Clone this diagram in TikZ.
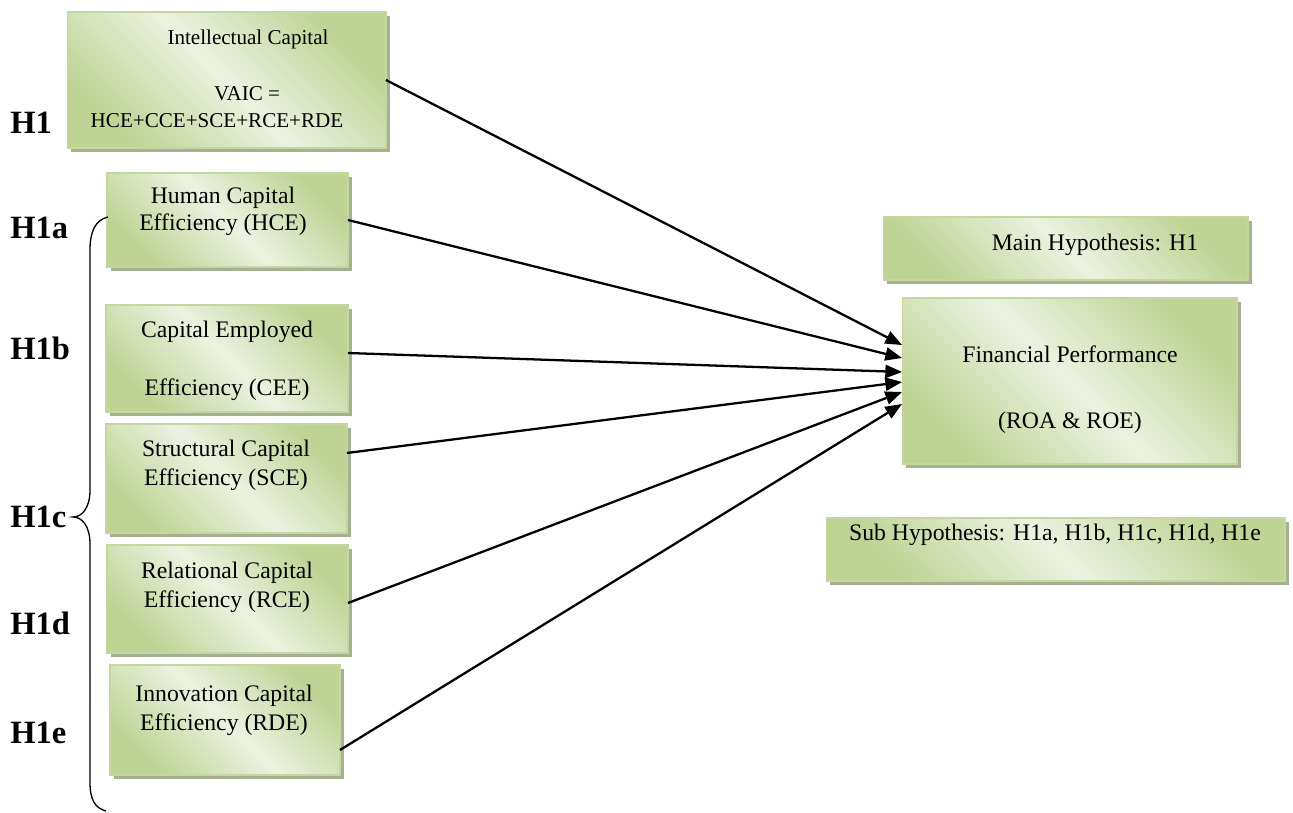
\documentclass[tikz,border=0pt]{standalone}
\usepackage{fontspec}
\setmainfont{Liberation Serif}
\usetikzlibrary{arrows.meta,shadows}
\definecolor{gdark}{RGB}{190,211,148}
\definecolor{glight}{RGB}{236,242,224}
\definecolor{gborder}{RGB}{196,215,160}
\definecolor{gshadow}{RGB}{166,176,147}
\tikzset{
  >={Triangle[length=9.5pt,width=7.5pt]},
  gbox/.style={draw=gborder, line width=0.6pt, inner sep=0pt, outer sep=0pt,
    top color=gdark, bottom color=gdark, middle color=glight, shading angle=-45,
    drop shadow={shadow xshift=0.08cm, shadow yshift=-0.08cm, fill=gshadow, opacity=1}},
  txt/.style={align=center, font=\fontsize{13.5}{16.5}\selectfont, inner sep=0pt},
  hyp/.style={anchor=west, font=\fontsize{18.5}{22}\selectfont\bfseries, inner sep=0pt},
  flow/.style={->, line width=1.3pt},
}

\begin{document}
\begin{tikzpicture}[x=0.02cm, y=-0.02cm]
  \useasboundingbox (0,0) rectangle (1293,813);

  \node[gbox, minimum width=6.38cm, minimum height=2.72cm] (ic)  at (226.5,80)  {};
  \node[gbox, minimum width=4.82cm, minimum height=1.88cm] (hce) at (227.5,220) {};
  \node[gbox, minimum width=4.84cm, minimum height=2.14cm] (cee) at (227,358.5) {};
  \node[gbox, minimum width=4.82cm, minimum height=2.18cm] (sce) at (226.5,478.5) {};
  \node[gbox, minimum width=4.82cm, minimum height=2.16cm] (rce) at (227.5,599) {};
  \node[gbox, minimum width=4.60cm, minimum height=2.20cm] (rde) at (225,720) {};
  \node[gbox, minimum width=7.30cm, minimum height=1.26cm] (mainh) at (1065.5,248.5) {};
  \node[gbox, minimum width=6.70cm, minimum height=3.32cm] (fin)   at (1069.5,381) {};
  \node[gbox, minimum width=9.18cm, minimum height=1.26cm] (subh)  at (1055.5,549.5) {};

  \node[txt, font=\fontsize{12}{15.3}\selectfont] (ict) at (217,78.5)
    {\hspace*{1.24cm}Intellectual Capital\\[16.5pt]\hspace*{1.2cm}VAIC =\\HCE+CCE+SCE+RCE+RDE};
  \node[txt] (hcet) at (223,211.5) {Human Capital\\[-1.2pt]Efficiency (HCE)};
  \node[txt] (ceet) at (227,361)   {Capital Employed\\[16.4pt]Efficiency (CEE)};
  \node[txt] (scet) at (226,465)   {Structural Capital\\Efficiency (SCE)};
  \node[txt] (rcet) at (227,587)   {Relational Capital\\Efficiency (RCE)};
  \node[txt] (rdet) at (224,710)   {Innovation Capital\\Efficiency (RDE)};
  \node[txt] (maint) at (1095,245) {Main Hypothesis: H1};
  \node[txt] (fint)  at (1070,390) {Financial Performance\\[20.9pt](ROA \& ROE)};
  \node[txt] (subt)  at (1055,535) {Sub Hypothesis: H1a, H1b, H1c, H1d, H1e};

  \node[hyp] (h1)  at (10,123) {H1};
  \node[hyp] (h1a) at (10,228) {H1a};
  \node[hyp] (h1b) at (10,348) {H1b};
  \node[hyp] (h1c) at (10,517) {H1c};
  \node[hyp] (h1d) at (10,623) {H1d};
  \node[hyp] (h1e) at (10,733) {H1e};

  \draw[line width=0.75pt] (108,217) .. controls (95,220) and (90,232) .. (90,250) -- (90,490)
    .. controls (90,508) and (82,517) .. (73,517) .. controls (82,517) and (90,526) .. (90,544)
    -- (90,782) .. controls (90,800) and (95,808) .. (106,811);

  \draw[flow] (ic.east) -- ([yshift=0.72cm]fin.west);
  \draw[flow] (hce.east) -- ([yshift=0.46cm]fin.west);
  \draw[flow] ([yshift=0.11cm]cee.east) -- ([yshift=0.18cm]fin.west);
  \draw[flow] ([yshift=0.51cm]sce.east) -- ([yshift=-0.02cm]fin.west);
  \draw[flow] ([yshift=-0.08cm]rce.east) -- ([yshift=-0.22cm]fin.west);
  \draw[flow] ([yshift=-0.6cm]rde.east) -- ([yshift=-0.46cm]fin.west);
\end{tikzpicture}
\end{document}
